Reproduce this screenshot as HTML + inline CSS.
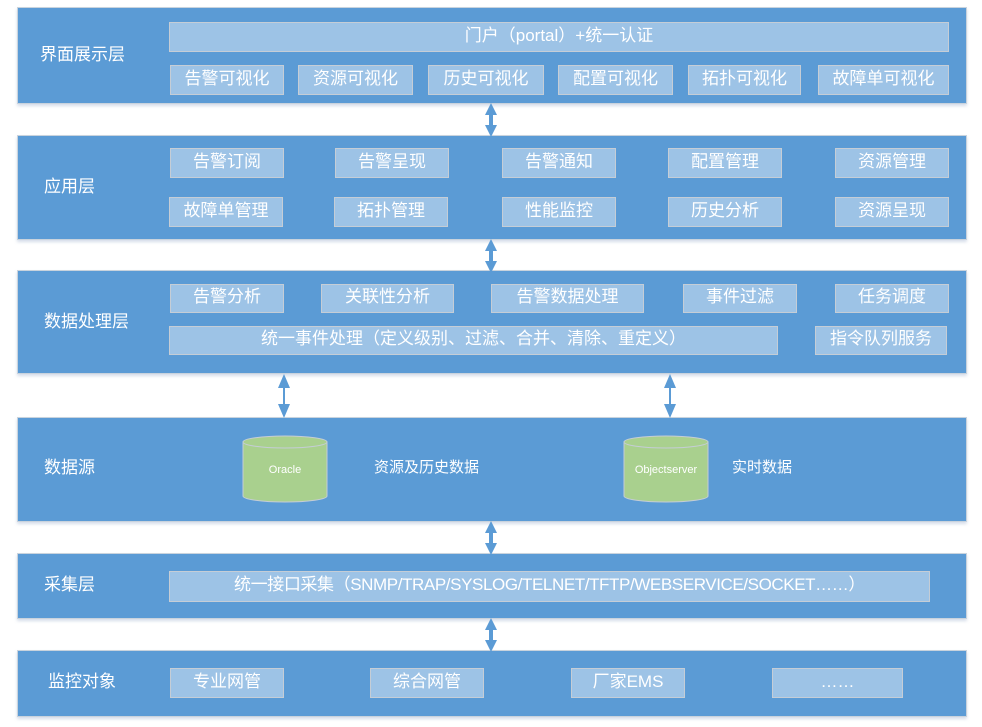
<!DOCTYPE html>
<html><head><meta charset="utf-8"><style>
body{margin:0;width:982px;height:727px;background:#fff;position:relative;overflow:hidden;font-family:"Liberation Sans","Noto Sans CJK SC",sans-serif;color:#fff}
.L{position:absolute;left:17px;width:950px;background:#5b9bd5;border:1px solid #c9d3dd;box-sizing:border-box;box-shadow:0 2px 3px rgba(150,170,200,.4)}
.t{position:absolute;font-size:17px;white-space:nowrap;line-height:20px}
.b{position:absolute;background:#9dc3e6;border:1px solid #c5cdd6;box-sizing:border-box;font-size:17px;display:flex;align-items:center;justify-content:center;white-space:nowrap;padding-bottom:3px;line-height:20px}
svg{position:absolute;left:0;top:0}
</style></head><body>
<div class="L" style="top:7px;height:97px"></div>
<div class="L" style="top:135px;height:105px"></div>
<div class="L" style="top:270px;height:104px"></div>
<div class="L" style="top:417px;height:105px"></div>
<div class="L" style="top:553px;height:66px"></div>
<div class="L" style="top:650px;height:67px"></div>

<div class="t" style="left:40px;top:45px">界面展示层</div>
<div class="t" style="left:44px;top:177px">应用层</div>
<div class="t" style="left:44px;top:312px">数据处理层</div>
<div class="t" style="left:44px;top:458px">数据源</div>
<div class="t" style="left:44px;top:575px">采集层</div>
<div class="t" style="left:48px;top:672px">监控对象</div>

<div class="b" style="left:169px;top:22px;width:780px;height:30px">门户（portal）+统一认证</div>
<div class="b" style="left:170px;top:65px;width:114px;height:30px">告警可视化</div>
<div class="b" style="left:298px;top:65px;width:115px;height:30px">资源可视化</div>
<div class="b" style="left:428px;top:65px;width:116px;height:30px">历史可视化</div>
<div class="b" style="left:558px;top:65px;width:115px;height:30px">配置可视化</div>
<div class="b" style="left:688px;top:65px;width:113px;height:30px">拓扑可视化</div>
<div class="b" style="left:818px;top:65px;width:131px;height:30px">故障单可视化</div>

<div class="b" style="left:170px;top:148px;width:114px;height:30px">告警订阅</div>
<div class="b" style="left:335px;top:148px;width:114px;height:30px">告警呈现</div>
<div class="b" style="left:502px;top:148px;width:114px;height:30px">告警通知</div>
<div class="b" style="left:668px;top:148px;width:114px;height:30px">配置管理</div>
<div class="b" style="left:835px;top:148px;width:114px;height:30px">资源管理</div>
<div class="b" style="left:169px;top:197px;width:114px;height:30px">故障单管理</div>
<div class="b" style="left:334px;top:197px;width:114px;height:30px">拓扑管理</div>
<div class="b" style="left:502px;top:197px;width:114px;height:30px">性能监控</div>
<div class="b" style="left:668px;top:197px;width:114px;height:30px">历史分析</div>
<div class="b" style="left:835px;top:197px;width:114px;height:30px">资源呈现</div>

<div class="b" style="left:170px;top:284px;width:114px;height:29px">告警分析</div>
<div class="b" style="left:321px;top:284px;width:133px;height:29px">关联性分析</div>
<div class="b" style="left:491px;top:284px;width:153px;height:29px">告警数据处理</div>
<div class="b" style="left:683px;top:284px;width:114px;height:29px">事件过滤</div>
<div class="b" style="left:835px;top:284px;width:114px;height:29px">任务调度</div>
<div class="b" style="left:169px;top:326px;width:609px;height:29px">统一事件处理（定义级别、过滤、合并、清除、重定义）</div>
<div class="b" style="left:815px;top:326px;width:132px;height:29px">指令队列服务</div>

<div class="t" style="left:374px;top:458px;font-size:15px">资源及历史数据</div>
<div class="t" style="left:732px;top:458px;font-size:15px">实时数据</div>

<div class="b" style="left:169px;top:571px;width:761px;height:31px;letter-spacing:-0.4px">统一接口采集（SNMP/TRAP/SYSLOG/TELNET/TFTP/WEBSERVICE/SOCKET……）</div>

<div class="b" style="left:170px;top:668px;width:114px;height:30px">专业网管</div>
<div class="b" style="left:370px;top:668px;width:114px;height:30px">综合网管</div>
<div class="b" style="left:571px;top:668px;width:114px;height:30px">厂家EMS</div>
<div class="b" style="left:772px;top:668px;width:131px;height:30px">……</div>

<svg width="982" height="727">
<defs><g id="arr"><path d="M0 0 L-6 12 L-2 12 L-2 22 L-6 22 L0 34 L6 22 L2 22 L2 12 L6 12 Z" fill="#5b9bd5"/></g></defs>
<use href="#arr" x="491" y="103"/>
<use href="#arr" x="491" y="239"/>
<use href="#arr" x="491" y="521"/>
<use href="#arr" x="491" y="618"/>
<g fill="#5b9bd5"><path d="M284 374 L278 388 L283 388 L283 404 L278 404 L284 418 L290 404 L285 404 L285 388 L290 388 Z"/>
<path d="M670 374 L664 388 L669 388 L669 404 L664 404 L670 418 L676 404 L671 404 L671 388 L676 388 Z"/></g>
<g stroke="#c5cdd6" stroke-width="1">
<path d="M243 442 L243 496 A42 6 0 0 0 327 496 L327 442 Z" fill="#a9d08e"/>
<ellipse cx="285" cy="442" rx="42" ry="6" fill="#a9d08e"/>
<path d="M624 442 L624 496 A42 6 0 0 0 708 496 L708 442 Z" fill="#a9d08e"/>
<ellipse cx="666" cy="442" rx="42" ry="6" fill="#a9d08e"/>
</g>
<text x="285" y="473" font-size="11" fill="#fff" text-anchor="middle" font-family="Liberation Sans,sans-serif">Oracle</text>
<text x="666" y="473" font-size="11" fill="#fff" text-anchor="middle" font-family="Liberation Sans,sans-serif">Objectserver</text>
</svg>
</body></html>
